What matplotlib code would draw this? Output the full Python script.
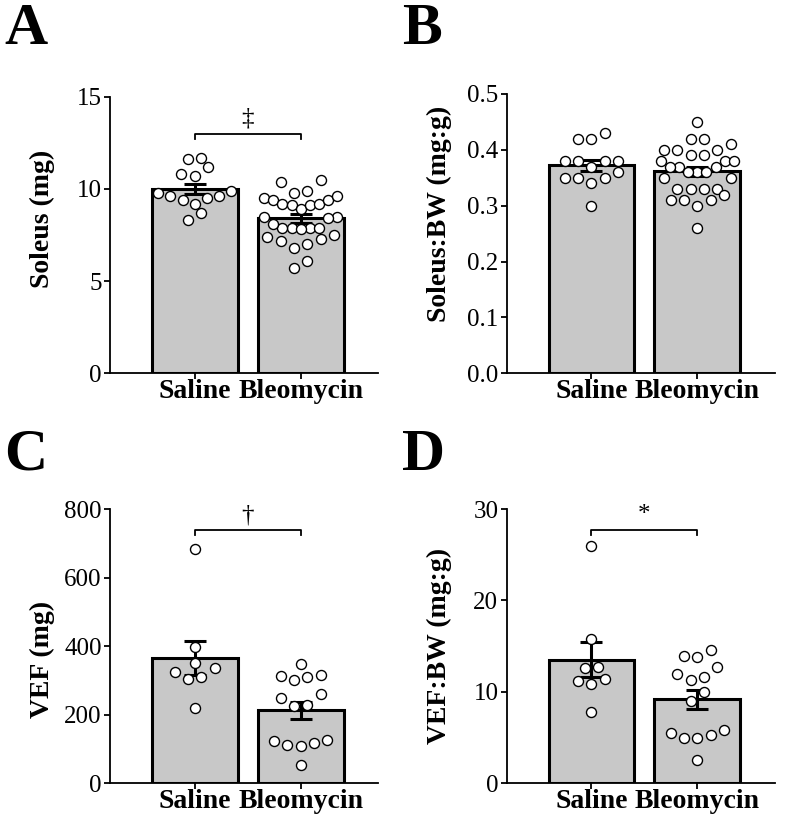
import numpy as np
import matplotlib.pyplot as plt

plt.rcParams['font.family'] = ['Liberation Serif', 'DejaVu Serif']

groups = ['Saline', 'Bleomycin']

# A: soleus mass (mg)
soleus_saline = [11.7, 11.6, 11.2, 10.7, 10.8, 9.8, 9.6, 9.4, 9.2, 9.5, 9.6, 9.9, 8.7, 8.3]
soleus_bleo = [10.4, 10.5, 9.8, 9.9, 9.5, 9.4, 9.2, 9.1, 8.9, 9.1, 9.2, 9.4, 9.6, 8.5, 8.4,
               8.45, 7.9, 7.9, 7.8, 7.9, 7.9, 8.1, 7.5, 7.3, 7.4, 7.2, 7.0, 6.8, 6.1, 5.7]

# B: soleus : body weight (mg:g)
soleus_bw_saline = [0.42, 0.42, 0.43, 0.38, 0.38, 0.38, 0.38, 0.37, 0.35, 0.35, 0.34, 0.35,
                    0.36, 0.30]
soleus_bw_bleo = [0.45, 0.42, 0.42, 0.41, 0.40, 0.40, 0.40, 0.39, 0.39, 0.38, 0.38, 0.38,
                  0.37, 0.37, 0.37, 0.36, 0.36, 0.36, 0.35, 0.35, 0.33, 0.33, 0.33, 0.33,
                  0.32, 0.31, 0.31, 0.31, 0.30, 0.26]

# C: visceral epididymal fat (mg)
vef_saline = [683, 397, 350, 336, 311, 305, 326, 219]
vef_bleo = [347, 316, 311, 300, 314, 250, 260, 224, 229, 124, 112, 109, 117, 127, 52]

# D: VEF : body weight (mg:g)
vef_bw_saline = [25.9, 15.8, 12.6, 12.7, 11.2, 10.9, 11.4, 7.8]
vef_bw_bleo = [14.6, 13.8, 13.9, 12.7, 11.6, 11.3, 12.0, 10.0, 9.0, 5.5, 5.0, 4.9, 5.3,
               5.8, 2.6]

panels = [
    ('A', 'Soleus (mg)', soleus_saline, soleus_bleo, [0, 5, 10, 15], '{:g}', '\u2021', 13.0),
    ('B', 'Soleus:BW (mg:g)', soleus_bw_saline, soleus_bw_bleo,
     [0.0, 0.1, 0.2, 0.3, 0.4, 0.5], '{:.1f}', None, None),
    ('C', 'VEF (mg)', vef_saline, vef_bleo, [0, 200, 400, 600, 800], '{:g}', '\u2020', 738),
    ('D', 'VEF:BW (mg:g)', vef_bw_saline, vef_bw_bleo, [0, 10, 20, 30], '{:g}', '*', 27.7),
]

W, H = 788, 823
fig = plt.figure(figsize=(W / 100, H / 100), dpi=100)

# axes boxes in pixels: left, y of zero line, y of top tick
boxes = [(110, 373.3, 96.7), (506.7, 373.3, 94), (110, 783.3, 509), (506.7, 783.3, 509)]
letter_pos = [(4, 44), (402, 44), (4, 470), (402, 470)]
label_y = [0.56, 0.57, 0.45, 0.5]
ax_w = 268


def row_offsets(ax, values, tol=13.0, gap=13.3, span=73.0):
    # Prism-like scatter: points close in y share a row, lowest in the middle
    vals = np.asarray(values, dtype=float)
    ys = ax.transData.transform(np.column_stack([np.zeros(len(vals)), vals]))[:, 1]
    xpx = ax.transData.transform((1, 0))[0] - ax.transData.transform((0, 0))[0]
    xs = np.zeros(len(vals))
    order = list(np.argsort(ys, kind='stable'))
    while order:
        start = ys[order[0]]
        row = [i for i in order if ys[i] - start < tol]
        order = [i for i in order if i not in row]
        n = len(row)
        step = gap if n < 2 else min(gap, span / (n - 1))
        if n % 2:
            slots = [0.0]
            k = 1
        else:
            slots = []
            k = 0.5
        while len(slots) < n:
            slots += [-k, k]
            k += 1
        for i, s in zip(row, slots):
            xs[i] = s * step
    return xs / xpx


for (letter, ylabel, sal, bleo, ticks, fmt, sym, sig_y), (lx, y0, y1), (tx, ty), ly in zip(
        panels, boxes, letter_pos, label_y):
    ax = fig.add_axes([lx / W, 1 - y0 / H, ax_w / W, (y0 - y1) / H])
    ax.set_xlim(-0.80, 1.73)
    ax.set_ylim(ticks[0], ticks[-1])

    data = [np.asarray(sal), np.asarray(bleo)]
    means = [d.mean() for d in data]
    sems = [d.std(ddof=1) / np.sqrt(len(d)) for d in data]

    ax.bar([0, 1], means, width=0.81, color='#c8c8c8', edgecolor='black',
           linewidth=2.2, zorder=2)
    ax.errorbar([0, 1], means, yerr=sems, fmt='none', ecolor='black', elinewidth=2.2,
                capsize=8, capthick=2.2, zorder=3)
    for i, d in enumerate(data):
        off = row_offsets(ax, d)
        ax.scatter(i + off, d, s=52, facecolor='white', edgecolor='black',
                   linewidth=1.0, zorder=4, clip_on=False)

    if sym is not None:
        ypx = ax.transData.transform((0, 0))[1] - ax.transData.transform((0, 1))[1]
        drop = 5 / abs(ypx)
        ax.plot([0, 0, 1, 1], [sig_y - drop, sig_y, sig_y, sig_y - drop], color='black',
                lw=1.3, clip_on=False, zorder=5)
        ax.annotate(sym, (0.5, sig_y), xytext=(0, 3), textcoords='offset points',
                    ha='center', va='bottom', fontsize=18)

    ax.set_yticks(ticks)
    ax.set_yticklabels([fmt.format(t) for t in ticks])
    ax.set_xticks([0, 1])
    ax.set_xticklabels(groups, fontweight='bold', fontsize=20)
    ax.tick_params(axis='y', labelsize=18, length=4, width=1.3, pad=2)
    ax.tick_params(axis='x', length=4, width=1.3, pad=0)
    for s in ['top', 'right']:
        ax.spines[s].set_visible(False)
    for s in ['left', 'bottom']:
        ax.spines[s].set_linewidth(1.3)

    ax.set_ylabel(ylabel, fontweight='bold', fontsize=20)
    ax.yaxis.set_label_coords(-0.205, ly)

    fig.text(tx / W, 1 - ty / H, letter, fontsize=43, fontweight='bold',
             ha='left', va='baseline')

fig.savefig('out.png', dpi=100)
